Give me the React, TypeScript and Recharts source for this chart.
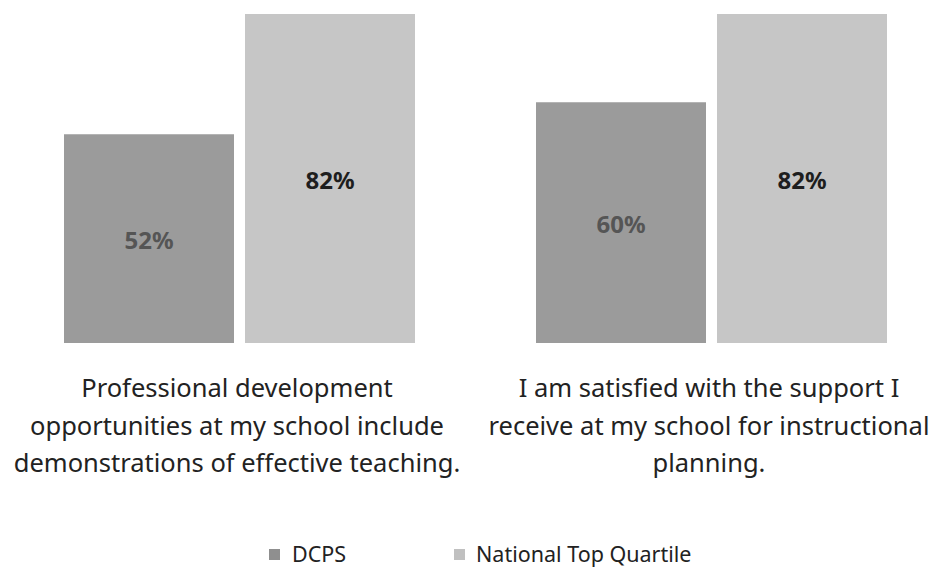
import React from "react";
import { BarChart, Bar, XAxis, YAxis, LabelList } from "recharts";

const categories = [
  "Professional development opportunities at my school include demonstrations of effective teaching.",
  "I am satisfied with the support I receive at my school for instructional planning.",
];
const categoryLines = [
  ["Professional development", "opportunities at my school include", "demonstrations of effective teaching."],
  ["I am satisfied with the support I", "receive at my school for instructional", "planning."],
];
const dcps = [52, 60];
const nationalTopQuartile = [82, 82];
const seriesNames = ["DCPS", "National Top Quartile"];
const colors = ["#9b9b9b", "#c6c6c6"];

const data = categories.map((c, i) => ({
  category: c,
  idx: i,
  dcps: dcps[i],
  ntq: nationalTopQuartile[i],
}));

const FONT = "'Noto Sans', 'Open Sans', sans-serif";

const Tick = (props: any) => {
  const { x, y, payload } = props;
  const lines = categoryLines[payload.index] || [String(payload.value)];
  return (
    <text x={x - 2} y={y} textAnchor="middle" fontFamily={FONT} fontSize={25.5} fill="#222">
      {lines.map((l, i) => (
        <tspan key={i} x={x - 2} dy={i === 0 ? 46 : 37.5}>
          {l}
        </tspan>
      ))}
    </text>
  );
};

const pct = (v: any) => `${v}%`;

export default function App() {
  return (
    <div style={{ position: "absolute", left: 0, top: 0, width: 935, height: 576, overflow: "hidden", background: "#fff" }}>
      <BarChart
        width={950}
        height={576}
        data={data}
        margin={{ top: 14, right: 3, bottom: 113, left: 3 }}
        barSize={170}
        barGap={11}
      >
        <XAxis dataKey="category" axisLine={false} tickLine={false} tick={<Tick />} interval={0} height={120} />
        <YAxis hide domain={[0, 82]} />
        <Bar dataKey="dcps" name={seriesNames[0]} fill={colors[0]} isAnimationActive={false}>
          <LabelList dataKey="dcps" position="center" dy={2} formatter={pct} fill="#555" fontFamily={FONT} fontSize={24} fontWeight="bold" />
        </Bar>
        <Bar dataKey="ntq" name={seriesNames[1]} fill={colors[1]} isAnimationActive={false}>
          <LabelList dataKey="ntq" position="center" dy={2} formatter={pct} fill="#1e1e1e" fontFamily={FONT} fontSize={24} fontWeight="bold" />
        </Bar>
      </BarChart>
      <div style={{ position: "absolute", left: 0, top: 540, width: 935, height: 30, fontFamily: FONT, fontSize: 21.5, color: "#222" }}>
        <div style={{ position: "absolute", left: 269, top: 0, width: 11, height: 11, background: "#8f8f8f", marginTop: 9 }} />
        <div style={{ position: "absolute", left: 292, top: 0, lineHeight: "28px" }}>{seriesNames[0]}</div>
        <div style={{ position: "absolute", left: 454, top: 0, width: 11, height: 11, background: "#c0c0c0", marginTop: 9 }} />
        <div style={{ position: "absolute", left: 476, top: 0, lineHeight: "28px" }}>{seriesNames[1]}</div>
      </div>
    </div>
  );
}
